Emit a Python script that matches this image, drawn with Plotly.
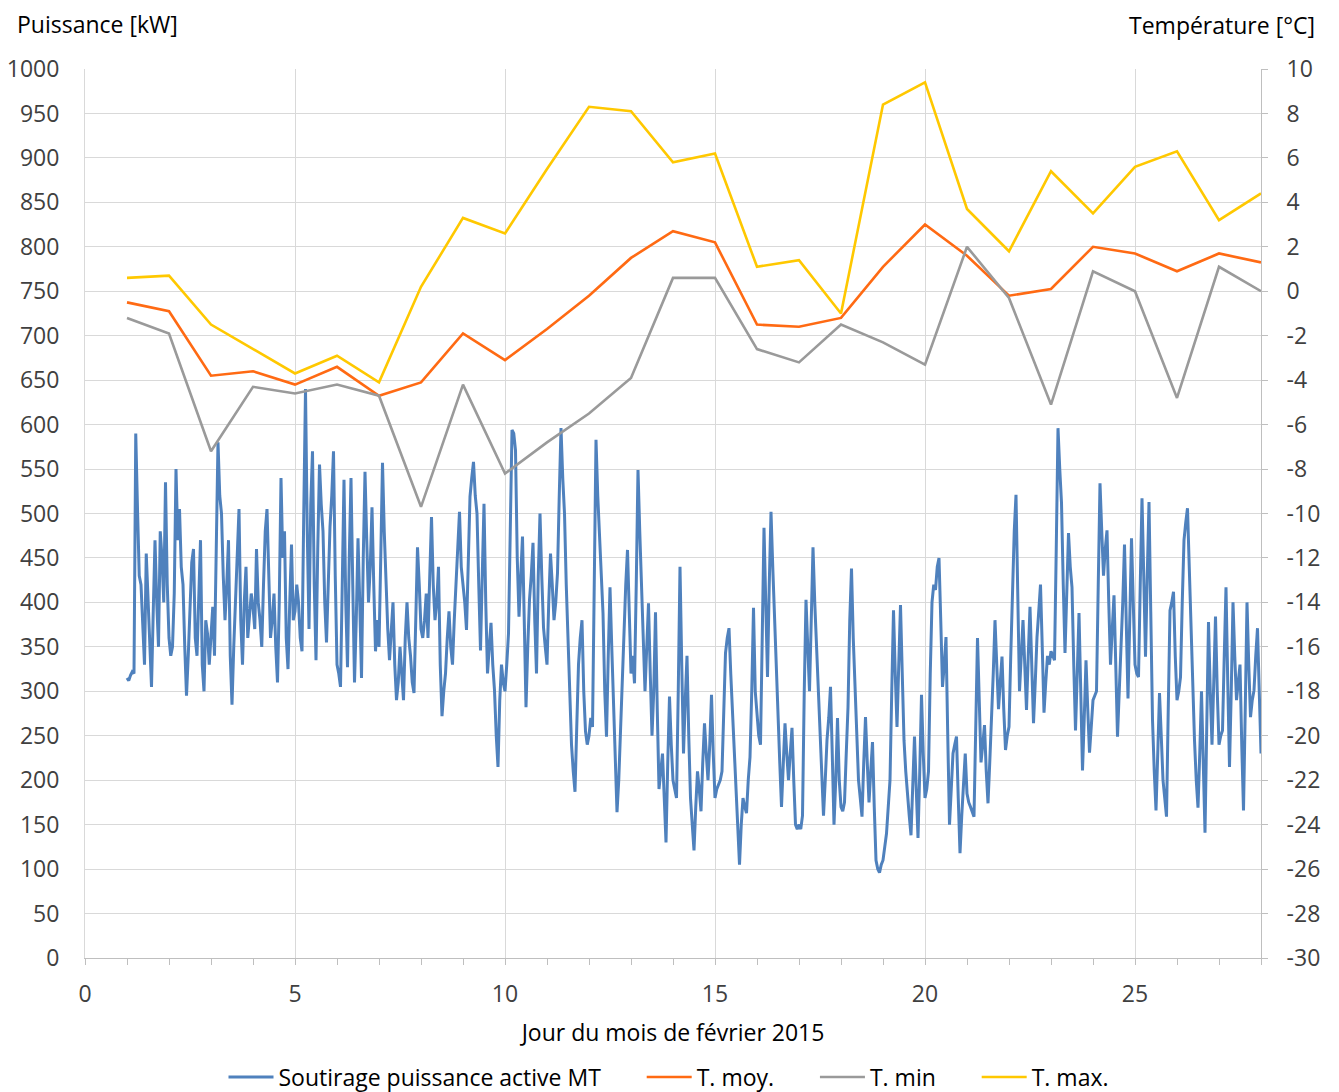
import numpy as np
import plotly.graph_objects as go

# daily temperatures, 1..28 Feb 2015
days = list(range(1, 29))
t_moy = [-0.5, -0.9, -3.8, -3.6, -4.2, -3.4, -4.7, -4.1, -1.9, -3.1, -1.7, -0.2, 1.5, 2.7,
         2.2, -1.5, -1.6, -1.2, 1.1, 3.0, 1.6, -0.2, 0.1, 2.0, 1.7, 0.9, 1.7, 1.3]
t_min = [-1.2, -1.9, -7.2, -4.3, -4.6, -4.2, -4.7, -9.7, -4.2, -8.2, -6.8, -5.5, -3.9, 0.6,
         0.6, -2.6, -3.2, -1.5, -2.3, -3.3, 2.0, -0.3, -5.1, 0.9, 0.0, -4.8, 1.1, 0.0]
t_max = [0.6, 0.7, -1.5, -2.6, -3.7, -2.9, -4.1, 0.2, 3.3, 2.6, 5.5, 8.3, 8.1, 5.8,
         6.2, 1.1, 1.4, -1.0, 8.4, 9.4, 3.7, 1.8, 5.4, 3.5, 5.6, 6.3, 3.2, 4.4]

# power drawn (kW), hourly readings from day 1 00h to day 28 00h (one row per day)
power = [
    315, 312, 318, 322, 320, 590, 505, 430, 420, 370, 330, 455, 400, 350, 305, 390, 470, 400, 350, 480, 450, 400, 535, 420,
    360, 340, 350, 410, 550, 470, 505, 440, 420, 350, 295, 340, 390, 445, 460, 360, 340, 420, 470, 330, 300, 380, 365, 330,
    370, 395, 340, 460, 580, 520, 500, 430, 380, 420, 470, 340, 285, 350, 400, 440, 505, 380, 330, 400, 440, 360, 390, 410,
    395, 370, 460, 400, 380, 350, 420, 480, 505, 420, 360, 380, 410, 350, 310, 400, 540, 450, 480, 360, 325, 400, 465, 380,
    390, 420, 400, 360, 345, 500, 640, 480, 370, 510, 570, 420, 335, 460, 555, 510, 480, 400, 355, 420, 485, 520, 570, 430,
    330, 320, 305, 420, 538, 400, 327, 450, 540, 420, 310, 380, 472, 400, 315, 450, 547, 470, 400, 440, 507, 420, 345, 380,
    350, 450, 557, 480, 420, 370, 335, 370, 400, 330, 290, 310, 350, 320, 290, 360, 400, 360, 340, 310, 298, 380, 462, 420,
    370, 360, 380, 410, 360, 430, 496, 420, 380, 400, 440, 330, 272, 300, 320, 360, 390, 350, 330, 380, 425, 460, 502, 440,
    420, 400, 369, 440, 519, 540, 558, 520, 500, 420, 346, 430, 511, 400, 320, 350, 377, 330, 301, 250, 215, 290, 330, 310,
    300, 330, 365, 480, 594, 590, 571, 450, 384, 430, 474, 380, 282, 350, 403, 430, 467, 380, 320, 430, 500, 430, 372, 350,
    330, 400, 455, 420, 380, 400, 433, 520, 596, 540, 500, 420, 355, 300, 240, 210, 187, 260, 330, 360, 380, 300, 255, 240,
    250, 270, 260, 420, 583, 520, 470, 420, 388, 300, 249, 340, 417, 350, 287, 220, 164, 200, 256, 320, 380, 420, 459, 380,
    320, 340, 309, 420, 549, 480, 430, 360, 300, 350, 399, 320, 250, 300, 389, 280, 190, 210, 230, 180, 130, 220, 294, 240,
    200, 190, 180, 300, 440, 330, 230, 290, 340, 250, 180, 150, 121, 170, 210, 190, 165, 220, 264, 230, 200, 240, 296, 230,
    180, 190, 195, 200, 210, 280, 343, 360, 371, 320, 280, 240, 200, 150, 105, 150, 180, 170, 163, 200, 226, 300, 394, 300,
    270, 250, 240, 350, 484, 400, 316, 420, 502, 440, 380, 330, 280, 220, 170, 220, 264, 230, 200, 230, 259, 200, 150, 145,
    150, 145, 160, 300, 403, 350, 300, 380, 462, 400, 350, 300, 264, 200, 160, 200, 245, 270, 305, 230, 150, 200, 270, 200,
    170, 165, 175, 230, 282, 380, 438, 360, 300, 250, 200, 180, 159, 220, 271, 220, 175, 210, 243, 170, 110, 100, 96, 105,
    110, 125, 140, 170, 200, 300, 391, 320, 260, 330, 397, 320, 245, 210, 180, 160, 138, 200, 249, 190, 135, 210, 296, 230,
    180, 190, 210, 320, 400, 420, 414, 440, 450, 380, 305, 330, 361, 250, 150, 190, 230, 240, 249, 180, 118, 160, 200, 230,
    185, 175, 170, 165, 159, 260, 360, 290, 220, 240, 262, 210, 174, 220, 265, 320, 380, 330, 280, 310, 339, 280, 234, 250,
    260, 340, 425, 480, 521, 400, 300, 340, 380, 330, 279, 340, 395, 330, 264, 310, 361, 390, 420, 350, 276, 310, 340, 330,
    345, 340, 335, 460, 596, 550, 512, 420, 343, 410, 478, 440, 417, 330, 256, 320, 388, 300, 211, 270, 335, 280, 231, 260,
    290, 295, 300, 420, 534, 480, 430, 460, 481, 400, 330, 370, 408, 330, 249, 300, 343, 400, 465, 380, 292, 380, 472, 400,
    330, 320, 316, 420, 517, 430, 339, 430, 513, 390, 268, 210, 166, 230, 298, 250, 200, 180, 159, 280, 391, 400, 412, 340,
    290, 300, 316, 400, 470, 490, 506, 440, 372, 300, 245, 200, 169, 230, 300, 220, 141, 260, 378, 300, 240, 310, 384, 300,
    240, 250, 256, 340, 417, 310, 215, 300, 400, 340, 290, 310, 330, 240, 166, 280, 400, 330, 271, 290, 301, 340, 371, 300,
    230,
]
power_time = 1 + np.arange(len(power)) / 24

temp_ticks = list(range(-30, 11, 2))

FONT = "Open Sans"
FS = 23
GRID = "#d9d9d9"
AXIS = "#bfbfbf"
TXT = "#404040"
# the page puts the figure 8 px in from the top-left corner, so the figure is
# sized to the window minus that offset and all pixel positions below are page - 8
OFF = 8
W, H = 1339 - OFF, 1092 - OFF
L, T = 85 - OFF, 69 - OFF
R, B = W - (1261 - OFF), H - (958 - OFF)
PW, PH = W - L - R, H - T - B
PAD = "\u00a0" * 6


def px_to_paper(x, y):
    # page pixel position -> paper coordinates of the plot area
    return (x - OFF - L) / PW, (H - B - (y - OFF)) / PH


fig = go.Figure()
fig.add_trace(go.Scatter(x=power_time, y=power, mode="lines",
                         name="Soutirage puissance active MT" + PAD,
                         line=dict(color="#4f81bd", width=3)))
fig.add_trace(go.Scatter(x=days, y=t_moy, mode="lines", name="T. moy." + PAD, yaxis="y2",
                         line=dict(color="#ff6a13", width=2.6)))
fig.add_trace(go.Scatter(x=days, y=t_min, mode="lines", name="T. min" + PAD, yaxis="y2",
                         line=dict(color="#9a9a9a", width=2.6)))
fig.add_trace(go.Scatter(x=days, y=t_max, mode="lines", name="T. max.", yaxis="y2",
                         line=dict(color="#ffc800", width=2.6)))

ax1, ay1 = px_to_paper(16, 24)
ax2, ay2 = px_to_paper(1316, 25)

fig.update_layout(
    width=W, height=H,
    margin=dict(l=L, r=R, t=T, b=B),
    plot_bgcolor="white", paper_bgcolor="white",
    font=dict(family=FONT, size=FS, color=TXT),
    showlegend=True,
    legend=dict(orientation="h", xref="container", x=(669 - OFF) / W, xanchor="center",
                yref="container", y=(H - (1077 - OFF)) / H, yanchor="middle",
                font=dict(size=FS, color="#000000"), itemwidth=45),
    xaxis=dict(range=[0, 28], dtick=5, tick0=0, showgrid=True, gridcolor=GRID, gridwidth=1,
               showline=True, linecolor=AXIS, linewidth=1, zeroline=False, automargin=False,
               ticks="outside", ticklen=6, tickcolor=AXIS, ticklabelstandoff=9,
               minor=dict(dtick=1, ticks="outside", ticklen=6, tickcolor=AXIS, showgrid=False),
               title=dict(text="Jour du mois de février 2015", standoff=17,
                          font=dict(size=FS, color="#000000"))),
    yaxis=dict(range=[0, 1000], dtick=50, showgrid=True, gridcolor=GRID, gridwidth=1,
               showline=True, linecolor=GRID, zeroline=False, ticks="", automargin=False,
               ticklabelstandoff=20),
    yaxis2=dict(range=[-30, 10], tickvals=temp_ticks, ticktext=[str(v) for v in temp_ticks],
                overlaying="y", side="right", showgrid=False, automargin=False,
                showline=True, linecolor=AXIS, zeroline=False, ticks="outside", ticklen=6,
                tickcolor=AXIS, ticklabelstandoff=14),
    annotations=[
        dict(text="Puissance [kW]", x=ax1, y=ay1, xref="paper", yref="paper",
             showarrow=False, xanchor="left", yanchor="middle", borderpad=0,
             font=dict(size=FS, color="#000000")),
        dict(text="Température [°C]", x=ax2, y=ay2, xref="paper", yref="paper",
             showarrow=False, xanchor="right", yanchor="middle", borderpad=0,
             font=dict(size=FS, color="#000000")),
    ],
)

fig.write_html("out.html")
